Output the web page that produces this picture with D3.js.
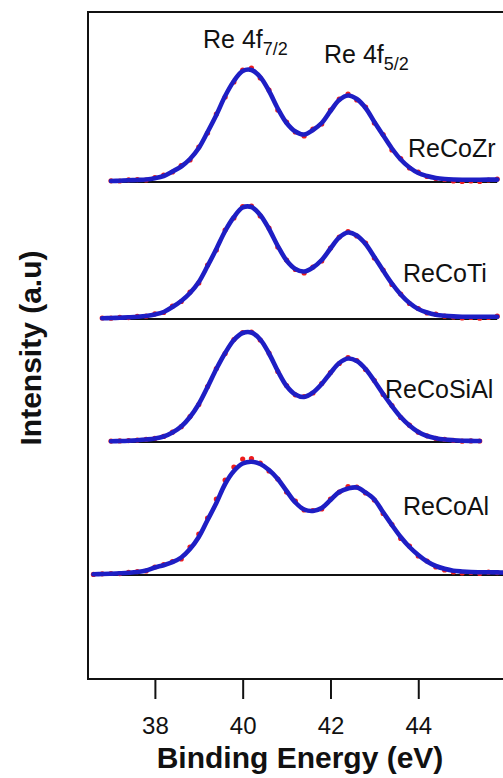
<!DOCTYPE html>
<html><head><meta charset="utf-8">
<script src="https://cdn.jsdelivr.net/npm/d3@7/dist/d3.min.js"></script>
<style>body{margin:0;background:#fff;} text{font-family:"Liberation Sans",Arial,sans-serif;}</style>
</head><body><svg id="c" width="503" height="778"></svg>
<script>
// Binding energy grid (eV)
const energy = [36.6,36.8,37.0,37.2,37.4,37.6,37.8,38.0,38.2,38.4,38.6,38.8,39.0,39.2,39.4,39.6,39.8,40.0,40.2,40.4,40.6,40.8,41.0,41.2,41.4,41.6,41.8,42.0,42.2,42.4,42.6,42.8,43.0,43.2,43.4,43.6,43.8,44.0,44.2,44.4,44.6,44.8,45.0,45.2,45.4,45.6,45.8,46.0];
const samples = ["ReCoZr","ReCoTi","ReCoSiAl","ReCoAl"];
const offsets = [497, 360, 237, 104];
// fitted envelopes (a.u.)
const fitZr   = [null,null,1.0,1.3,1.7,2.0,2.5,3.8,6.0,10.5,15.5,23,34,50,67,86,101,111,112,105,91,73.5,59,50.5,47.5,52,59,71,82,86.5,83,74,60,46.7,33.5,22.5,14.5,9,6,4,3,2.5,2.3,2.3,2.3,2.4,2.4,null];
const fitTi   = [null,0.8,1.0,1.3,1.7,2.2,3.0,4.5,7,12,18,26,37,53,70,88,102,111.5,112,104,90,73,58.5,50,47.5,51.5,59,70.5,81.5,86.5,83.5,75,62,48.5,35.5,24.5,16,10,6.5,4.3,3.2,2.6,2.3,2.2,2.2,2.2,2.2,null];
const fitSiAl = [null,null,0.8,1.0,1.3,1.8,2.5,3.5,5.5,9.5,15.5,25,38,55,73,89,102,109,109.5,102.5,88.5,71,56,47.5,45,49.5,58,69,79,83.5,81,73,61,48,36,25,16.5,10,6,3.8,2.5,1.8,1.3,1.1,1.0,null,null,null];
const fitAl   = [0.8,1.0,1.3,1.7,2.2,3.0,4.5,7.5,9.8,12.8,17.5,26,38,55,72,91,104,111.5,113.3,111,105,96,84,72.5,65.5,64,67,75,83,86.5,87.5,82.5,75.5,62.7,50,38,28,20,13.5,9,6.2,4.3,3.5,3,2.8,2.7,2.6,2.5];
// raw data (a.u.)
const rawZr   = [null,null,1.2,1.0,2.2,2.4,2.0,4.5,7.0,10.0,16.5,22,35,49,68,85,100,112,114,104,92,72,60,50,46,53,58,72,83,88,82,75,59,47.5,32,23.5,14,10,5.5,3.5,2.5,1.0,0.5,1.0,0.5,2.0,3.0,null];
const rawTi   = [null,1.0,0.8,1.6,1.4,2.6,2.8,5.2,6.5,12.8,17.5,27,36,54,69,89,101,112.5,113,103,91,72,59,49.5,46,52,58,71,82,87.5,83,76,61,49,34.5,25,15.5,10.5,6,4.8,2.8,2.0,1.0,1.5,0.8,1.5,2.8,null];
const rawSiAl = [null,null,0.9,1.1,1.4,1.9,2.7,3.6,5.6,9.8,15.3,25.5,37.5,55.5,73.5,88.5,102.5,109.5,110,102,89,70.5,56.5,47.2,45.5,49,58.5,69.5,78.5,84.5,81.5,72.5,61.5,47.5,36.5,24.5,16.8,9.8,6.2,3.6,2.6,1.6,0.8,1.1,1.0,null,null,null];
const rawAl   = [0.6,1.2,1.5,1.4,2.6,3.4,4.0,8.0,10.5,13.5,16,28,41,57,76,95,108,116,116.5,112,104,96,83,74,65,64.5,66,76,83,88.5,88,82,75,61.5,50.5,36.5,29,19,14,8,5,3.0,2.0,2.5,1.5,2.8,2.4,1.8];
const xTicks = [38,40,42,44];
const peakLabels = [{main:"Re 4f", sub:"7/2"}, {main:"Re 4f", sub:"5/2"}];
const fits = [fitZr, fitTi, fitSiAl, fitAl];
const raws = [rawZr, rawTi, rawSiAl, rawAl];

const svg = d3.select("#c");
const L = 88, T = 12, B = 679;
const x = d3.scaleLinear().domain([36.476, 46.09]).range([L, 510]);
const y = d3.scaleLinear().domain([0, 667]).range([B, T]);

const g = svg.append("g");
samples.forEach((s, i) => {
  const pts = energy.map((e, k) => ({e, f: fits[i][k], r: raws[i][k]})).filter(d => d.f != null);
  const e0 = pts[0].e, e1 = pts[pts.length - 1].e;
  g.append("line").attr("x1", x(e0)).attr("x2", x(e1))
    .attr("y1", y(offsets[i])).attr("y2", y(offsets[i]))
    .attr("stroke", "#111").attr("stroke-width", 1.8);
  g.selectAll(null).data(pts).enter().append("circle")
    .attr("cx", d => x(d.e)).attr("cy", d => y(offsets[i] + d.r)).attr("r", 2.6)
    .attr("fill", "#ee1c1c");
  g.append("path").datum(pts)
    .attr("d", d3.line().x(d => x(d.e)).y(d => y(offsets[i] + d.f)).curve(d3.curveCatmullRom))
    .attr("fill", "none").attr("stroke", "#1e1ec4").attr("stroke-width", 4.6)
    .attr("stroke-linecap", "round").attr("stroke-linejoin", "round");
});

const labelXY = [[408,157],[403,282],[385,398],[403,515]];
samples.forEach((s, i) => {
  svg.append("text").attr("x", labelXY[i][0]).attr("y", labelXY[i][1])
    .attr("font-size", 25).attr("fill", "#111").text(s);
});
const peakXY = [[203,48],[324,63]];
peakLabels.forEach((p, i) => {
  const t = svg.append("text").attr("x", peakXY[i][0]).attr("y", peakXY[i][1])
    .attr("font-size", 25).attr("fill", "#111");
  t.append("tspan").text(p.main);
  t.append("tspan").attr("font-size", 18).attr("dy", 7).text(p.sub);
});

svg.append("rect").attr("x", L).attr("y", T).attr("width", 440).attr("height", B - T)
  .attr("fill", "none").attr("stroke", "#111").attr("stroke-width", 2);

const ax = svg.append("g").attr("transform", `translate(0,${B})`)
  .call(d3.axisBottom(x).tickValues(xTicks).tickSize(20).tickPadding(18).tickFormat(d3.format("d")));
ax.select(".domain").remove();
ax.selectAll("line").attr("stroke", "#111").attr("stroke-width", 2);
ax.selectAll("text").attr("font-size", 24).attr("fill", "#111").attr("font-family", "Liberation Sans, Arial, sans-serif");

svg.append("text").attr("x", 300).attr("y", 768).attr("text-anchor", "middle")
  .attr("font-size", 30).attr("font-weight", "bold").attr("fill", "#111").text("Binding Energy (eV)");
svg.append("text").attr("transform", "translate(41,348) rotate(-90)").attr("text-anchor", "middle")
  .attr("font-size", 30).attr("font-weight", "bold").attr("fill", "#111").text("Intensity (a.u)");
</script></body></html>
